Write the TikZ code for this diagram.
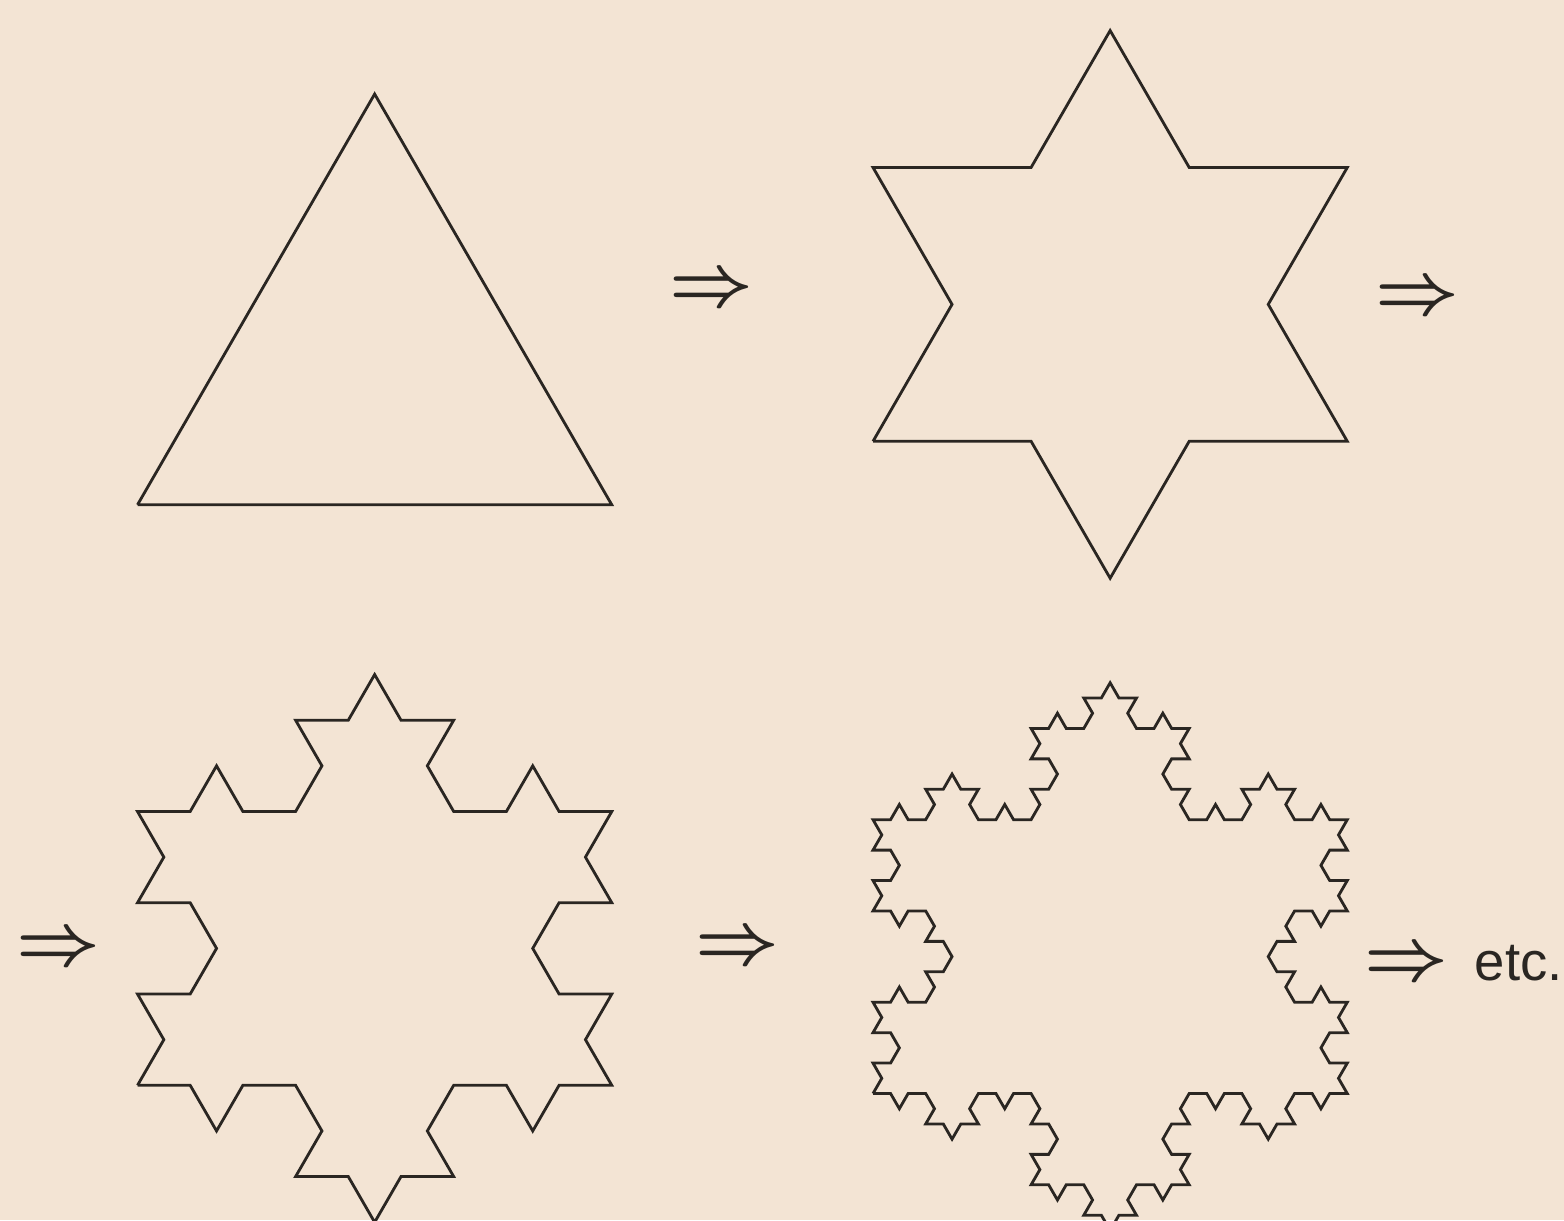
\documentclass[tikz,border=0pt]{standalone}
\usepackage{fontspec}
\setsansfont{Liberation Sans}
\usepackage{tikz}
\usetikzlibrary{lindenmayersystems}
\definecolor{papercolor}{HTML}{F3E4D4}
\definecolor{inkcolor}{HTML}{2A2622}

\pgfdeclarelindenmayersystem{koch}{\rule{F -> F-F++F-F}}

\begin{document}
\begin{tikzpicture}[
    x=0.01cm, y=0.01cm,
    flake/.style={draw=inkcolor, line width=0.8pt, line join=miter},
    implies/.style={inner sep=0pt, text=inkcolor, font=\boldmath\fontsize{20}{24}\selectfont}
]
    % paper
    \fill[papercolor] (0,0) rectangle (1564,1220);
    \useasboundingbox (0,0) rectangle (1564,1220);

    % order 0: triangle
    \begin{scope}[shift={(137.5,715.2)}]
        \draw[flake, l-system={koch, axiom=F++F++F, order=0, step=4.74cm, angle=60}]
            lindenmayer system;
    \end{scope}

    % order 1: star
    \begin{scope}[shift={(873,778.7)}]
        \draw[flake, l-system={koch, axiom=F++F++F, order=1, step=1.58cm, angle=60}]
            lindenmayer system;
    \end{scope}

    % order 2
    \begin{scope}[shift={(137.5,134.7)}]
        \draw[flake, l-system={koch, axiom=F++F++F, order=2, step=0.526667cm, angle=60}]
            lindenmayer system;
    \end{scope}

    % order 3
    \begin{scope}[shift={(873,126.5)}]
        \draw[flake, l-system={koch, axiom=F++F++F, order=3, step=0.175556cm, angle=60}]
            lindenmayer system;
    \end{scope}

    % implication signs
    \node[implies] (impA) at (711,929) {$\Rightarrow$};
    \node[implies] (impB) at (1417,921) {$\Rightarrow$};
    \node[implies] (impC) at (58,270) {$\Rightarrow$};
    \node[implies] (impD) at (737,271) {$\Rightarrow$};
    \node[implies] (impE) at (1406,255) {$\Rightarrow$};
    \node[inner sep=0pt, text=inkcolor, font=\sffamily\fontsize{15.5}{18}\selectfont, anchor=west]
        (etc) at (1474,257) {etc.};
\end{tikzpicture}
\end{document}
